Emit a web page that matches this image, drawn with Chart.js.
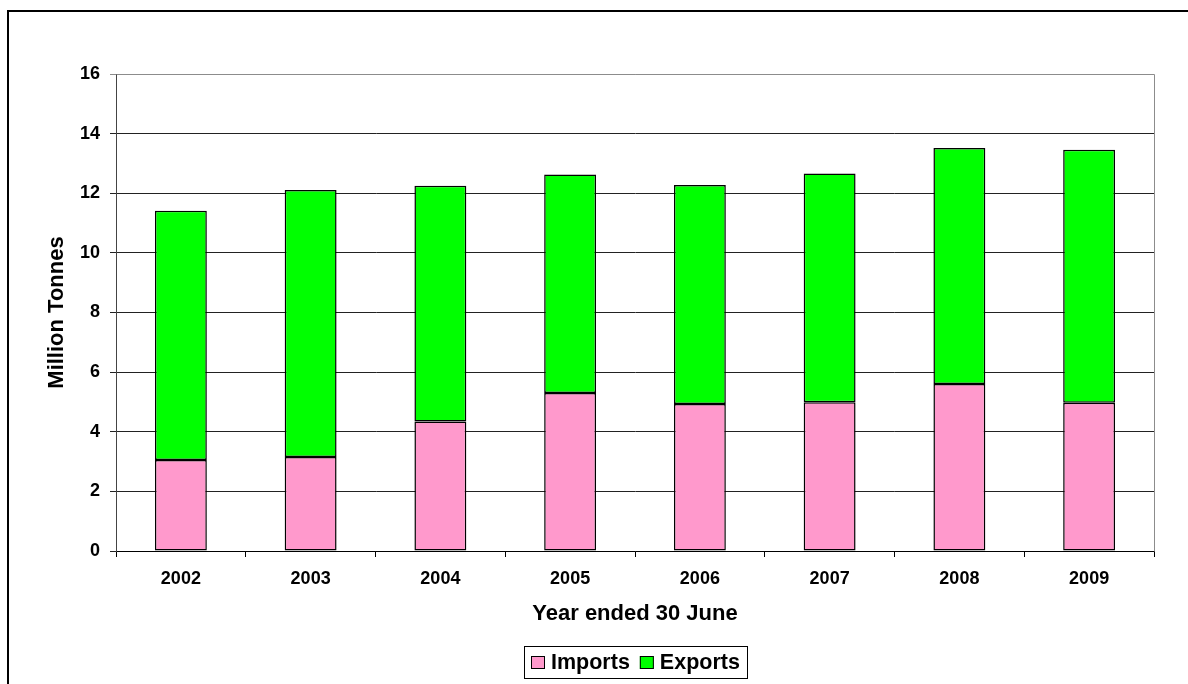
<!DOCTYPE html>
<html>
<head>
<meta charset="utf-8">
<script src="https://cdn.jsdelivr.net/npm/chart.js@4.4.1/dist/chart.umd.min.js"></script>
<style>
html,body{margin:0;padding:0;background:#fff;}
canvas{display:block;}
</style>
</head>
<body>
<canvas id="c" width="1188" height="684"></canvas>
<script>
// ---- data ----
const years = ['2002', '2003', '2004', '2005', '2006', '2007', '2008', '2009'];
const imports = [3.05, 3.15, 4.34, 5.30, 4.93, 4.99, 5.60, 4.97];
const exportsData = [8.36, 8.96, 7.91, 7.33, 7.35, 7.67, 7.92, 8.49];
const seriesNames = ['Imports', 'Exports'];
const yMin = 0, yMax = 16, yStep = 2;
const xTitle = 'Year ended 30 June';
const yTitle = 'Million Tonnes';

const FONT = "'Liberation Sans', Arial, sans-serif";

const framePlugin = {
  id: 'frame',
  beforeDraw(chart) {
    const ctx = chart.ctx;
    ctx.save();
    ctx.fillStyle = '#fff';
    ctx.fillRect(0, 0, chart.width, chart.height);
    ctx.restore();
  },
  afterDraw(chart) {
    const ctx = chart.ctx;
    const a = chart.chartArea;
    ctx.save();
    // outer frame (top and left)
    ctx.fillStyle = '#000';
    ctx.fillRect(7, 10, 2, chart.height - 10);
    ctx.fillRect(7, 10, chart.width - 7, 2);
    // plot border top/right
    ctx.strokeStyle = '#8c8c8c';
    ctx.lineWidth = 1;
    ctx.beginPath();
    ctx.moveTo(Math.round(a.left) + 0.5, Math.round(a.top) + 0.5);
    ctx.lineTo(Math.round(a.right) + 0.5, Math.round(a.top) + 0.5);
    ctx.lineTo(Math.round(a.right) + 0.5, Math.round(a.bottom) + 0.5);
    ctx.stroke();

    // legend
    const ds = chart.data.datasets;
    ctx.font = 'bold 21.5px ' + FONT;
    const pad = 7, box = 14, gap = 6, itemGap = 10;
    let w = pad * 2;
    const widths = ds.map(d => ctx.measureText(d.label).width);
    widths.forEach((tw, i) => { w += box + gap + tw + (i < ds.length - 1 ? itemGap : 0); });
    const cx = (a.left + a.right) / 2;
    const left = Math.round(cx - w / 2);
    const top = 646, h = 32;
    ctx.strokeStyle = '#000';
    ctx.lineWidth = 1;
    ctx.strokeRect(left + 0.5, top + 0.5, Math.round(w), h);
    let x = left + pad;
    const cy = top + h / 2 + 1;
    ds.forEach((d, i) => {
      ctx.fillStyle = d.backgroundColor;
      ctx.fillRect(x, cy - 7, box, 13);
      ctx.strokeStyle = '#000';
      ctx.strokeRect(x + 0.5, cy - 7 + 0.5, box - 1, 12);
      x += box + gap;
      ctx.fillStyle = '#000';
      ctx.textBaseline = 'middle';
      ctx.textAlign = 'left';
      ctx.fillText(d.label, x, cy);
      x += widths[i] + itemGap;
    });
    ctx.restore();
  }
};

new Chart(document.getElementById('c'), {
  type: 'bar',
  data: {
    labels: years,
    datasets: [
      { label: seriesNames[0], data: imports, backgroundColor: '#FF99CC', borderColor: '#000', borderWidth: 1.5, borderSkipped: false },
      { label: seriesNames[1], data: exportsData, backgroundColor: '#00FF00', borderColor: '#000', borderWidth: 1.5, borderSkipped: false }
    ]
  },
  options: {
    responsive: false,
    animation: false,
    devicePixelRatio: 1,
    layout: { padding: { left: 0, top: 74, right: 34, bottom: 57 } },
    plugins: { legend: { display: false }, tooltip: { enabled: false } },
    datasets: { bar: { barPercentage: 0.4, categoryPercentage: 1.0 } },
    scales: {
      x: {
        stacked: true,
        offset: true,
        grid: { offset: true, drawOnChartArea: false, drawTicks: true, tickLength: 6, color: '#000' },
        border: { display: true, color: '#000', width: 1 },
        ticks: { color: '#000', font: { family: FONT, size: 18, weight: 'bold' }, padding: 11, maxRotation: 0 },
        title: { display: true, text: xTitle, color: '#000', font: { family: FONT, size: 22, weight: 'bold' }, padding: { top: 0, bottom: 0 } },
        afterFit(scale) { scale.height = 76; }
      },
      y: {
        stacked: true,
        min: yMin, max: yMax,
        ticks: { stepSize: yStep, color: '#000', font: { family: FONT, size: 18, weight: 'bold' }, padding: 10 },
        grid: { color: (c) => (c.tick && c.tick.value === yMax ? '#8c8c8c' : '#222'), tickLength: 6, lineWidth: 1 },
        border: { display: true, color: '#444', width: 1 },
        title: { display: true, text: yTitle, color: '#000', font: { family: FONT, size: 22, weight: 'bold' }, padding: { top: 44, bottom: 0 } },
        afterFit(scale) { scale.width = 116; }
      }
    }
  },
  plugins: [framePlugin]
});
</script>
</body>
</html>
